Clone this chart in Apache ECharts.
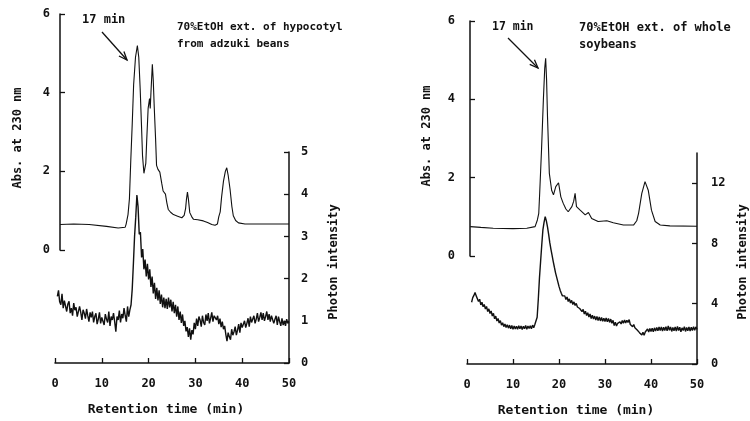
<!DOCTYPE html>
<html>
<head>
<meta charset="utf-8">
<script src="https://cdn.jsdelivr.net/npm/echarts@6/dist/echarts.min.js"></script>
<style>
html,body{margin:0;padding:0;background:#fff;}
#chart{width:750px;height:421px;}
</style>
</head>
<body>
<div id="chart"></div>
<script>
// ---------- DATA ----------
const xTicks = [0, 10, 20, 30, 40, 50];

// Left panel: 70%EtOH ext. of hypocotyl from adzuki beans
const absLeft = [[1.1,0.65],[4,0.66],[7.3,0.65],[11,0.60],[13.5,0.56],[13.9,0.54],[15.0,0.58],[15.2,0.66],[15.6,0.9],[15.9,1.3],[16.2,2.3],[16.5,3.2],[16.8,4.2],[17.2,4.9],[17.6,5.2],[17.9,4.9],[18.2,4.1],[18.5,3.1],[18.7,2.4],[19.0,1.95],[19.2,1.9],[19.4,2.2],[19.6,2.8],[19.9,3.6],[20.2,3.85],[20.35,3.6],[20.5,4.0],[20.8,4.72],[21.0,4.3],[21.2,3.65],[21.5,2.8],[21.7,2.15],[22.0,2.05],[22.4,1.98],[22.8,1.7],[23.1,1.5],[23.6,1.42],[23.9,1.2],[24.2,1.03],[24.7,0.96],[25.3,0.9],[26.2,0.86],[27.1,0.82],[27.6,0.88],[27.9,1.05],[28.1,1.3],[28.3,1.47],[28.5,1.3],[28.8,0.95],[29.2,0.85],[29.6,0.78],[30.5,0.77],[31.7,0.74],[32.6,0.7],[33.5,0.65],[34.2,0.63],[34.7,0.66],[35.0,0.85],[35.3,0.97],[35.6,1.35],[36.0,1.75],[36.4,2.0],[36.7,2.09],[37.0,1.9],[37.4,1.55],[37.8,1.1],[38.1,0.87],[38.6,0.75],[39.2,0.69],[40.6,0.66],[45,0.66],[50,0.66]];

const photonLeftStart = 0.5, photonLeftStep = 0.25;
const photonLeft = [
  1.58,1.72,1.45,1.38,1.64,1.30,1.48,1.52,
  1.22,1.40,1.46,1.18,1.30,1.12,1.42,1.25,
  1.32,1.10,1.14,1.34,1.20,1.02,1.26,1.18,
  1.05,1.28,1.12,0.98,1.20,1.08,1.22,0.96,
  1.10,1.18,0.92,1.04,1.20,0.94,1.08,1.12,
  0.90,1.16,1.04,0.96,1.22,0.88,1.10,1.02,
  1.18,0.98,0.74,1.10,1.02,1.24,0.96,1.16,
  1.06,1.30,1.12,0.98,1.34,1.10,1.26,1.38,
  1.75,2.35,3.00,3.45,3.98,3.70,3.05,3.10,
  2.50,2.70,2.22,2.45,2.05,2.35,1.98,2.22,
  1.80,2.05,1.65,1.90,1.52,1.78,1.48,1.72,
  1.40,1.62,1.32,1.55,1.30,1.52,1.28,1.55,
  1.32,1.50,1.22,1.45,1.18,1.38,1.10,1.34,
  1.02,1.22,0.95,1.15,0.88,1.00,0.75,0.85,
  0.62,0.82,0.55,0.78,0.68,0.95,0.80,1.05,
  0.88,1.10,1.02,0.86,1.12,0.96,0.90,1.15,
  1.00,1.18,0.94,1.06,1.20,0.98,1.12,1.16,
  1.02,1.12,0.92,1.05,0.85,0.98,0.80,0.88,
  0.68,0.52,0.72,0.62,0.55,0.80,0.66,0.74,
  0.86,0.66,0.78,0.92,0.72,0.95,0.84,0.80,
  1.00,0.84,0.94,1.06,0.86,1.10,0.96,0.92,
  1.12,0.94,1.04,1.18,0.98,1.08,1.20,1.02,
  1.18,1.00,1.10,1.22,1.02,1.16,0.98,1.12,
  1.14,0.94,1.04,1.12,0.90,1.10,0.98,0.88,
  1.06,0.90,1.00,0.88,1.04,0.94,0.98];

// Right panel: 70%EtOH ext. of whole soybeans
const absRight = [[0.7,0.75],[3,0.73],[5.7,0.71],[10,0.70],[13,0.71],[14.8,0.75],[15.3,0.92],[15.6,1.09],[15.8,1.6],[16.2,2.71],[16.6,3.98],[16.9,4.8],[17.1,5.05],[17.3,4.5],[17.5,3.56],[17.9,2.11],[18.4,1.68],[18.8,1.56],[19.3,1.77],[19.9,1.87],[20.4,1.51],[20.9,1.35],[21.5,1.2],[22.0,1.13],[22.8,1.26],[23.2,1.4],[23.5,1.6],[23.8,1.26],[24.6,1.17],[25.7,1.05],[26.4,1.11],[27.1,0.96],[28.5,0.88],[30.4,0.90],[31.8,0.85],[34,0.79],[36.2,0.79],[36.9,0.9],[37.3,1.09],[38.0,1.6],[38.7,1.9],[39.4,1.68],[40.1,1.17],[40.9,0.88],[42,0.79],[44.1,0.77],[50,0.76]];

const photonRightStart = 1.0, photonRightStep = 0.25;
const photonRight = [
  4.10,4.40,4.55,4.75,4.52,4.40,4.15,4.30,
  3.92,4.10,3.80,3.95,3.65,3.82,3.48,3.66,
  3.35,3.52,3.18,3.36,3.00,3.18,2.85,3.02,
  2.72,2.88,2.58,2.74,2.48,2.66,2.42,2.60,
  2.38,2.58,2.34,2.55,2.30,2.52,2.32,2.50,
  2.30,2.54,2.34,2.52,2.28,2.50,2.34,2.56,
  2.30,2.52,2.36,2.54,2.34,2.58,2.40,2.62,
  2.70,3.10,4.30,5.70,6.80,7.90,8.90,9.40,
  9.78,9.50,9.10,8.60,8.05,7.60,7.20,6.80,
  6.42,6.05,5.75,5.45,5.15,4.90,4.70,4.52,
  4.40,4.52,4.28,4.45,4.15,4.32,4.05,4.22,
  3.95,4.12,3.88,4.02,3.78,3.90,3.68,3.75,
  3.48,3.62,3.32,3.50,3.22,3.40,3.12,3.32,
  3.02,3.24,2.98,3.18,2.92,3.15,2.88,3.12,
  2.86,3.08,2.84,3.04,2.82,3.06,2.80,3.02,
  2.76,2.98,2.70,2.90,2.55,2.78,2.52,2.70,
  2.58,2.80,2.66,2.88,2.70,2.92,2.72,2.90,
  2.76,2.95,2.62,2.72,2.48,2.62,2.40,2.50,
  2.25,2.35,2.08,2.18,1.92,2.10,1.90,2.12,
  2.10,2.32,2.12,2.36,2.15,2.38,2.14,2.40,
  2.18,2.42,2.20,2.45,2.22,2.46,2.18,2.44,
  2.22,2.48,2.20,2.52,2.24,2.46,2.16,2.42,
  2.20,2.46,2.18,2.50,2.22,2.44,2.14,2.40,
  2.22,2.48,2.16,2.42,2.20,2.46,2.18,2.44,
  2.22,2.48,2.24,2.46,2.30];

const absTicks = [0, 2, 4, 6];
const photonLeftTicks = [0, 1, 2, 3, 4, 5];
const photonRightTicks = [0, 4, 8, 12];

const titleLeft = ['70%EtOH ext. of hypocotyl', 'from adzuki beans'];
const titleRight = ['70%EtOH ext. of whole', 'soybeans'];
const peakLabel = '17 min';
const yTitleAbs = 'Abs. at 230 nm';
const yTitlePhoton = 'Photon intensity';
const xTitle = 'Retention time (min)';

// ---------- BUILD ----------
const INK = '#111';
const FONT = 'DejaVu Sans Mono';
function toPairs(start, step, vals){ return vals.map((v,i)=>[+(start+step*i).toFixed(3), v]); }

const labelStyle = {color: INK, fontFamily: FONT, fontWeight: 'bold', fontSize: 12};
const lineAx = {show: true, onZero: false, lineStyle: {color: INK, width: 1.5}};
const tickIn = {show: true, inside: true, length: 5, lineStyle: {color: INK, width: 1.3}};

function xAx(grid, show){
  return {type:'value', gridIndex:grid, min:0, max:50, interval:10, show:show,
    axisLine: lineAx, axisTick: tickIn, splitLine:{show:false},
    axisLabel: Object.assign({margin:15}, labelStyle)};
}
function yAx(grid, pos, max, interval, offset, margin, extra){
  return Object.assign({type:'value', gridIndex:grid, position:pos, min:0, max:max, interval:interval, offset:offset,
    axisLine: lineAx, axisTick: tickIn, splitLine:{show:false},
    axisLabel: Object.assign({margin:margin}, labelStyle)}, extra||{});
}

const grids = [
  {left:55, top:14, width:234, height:236},   // 0 left abs
  {left:55, top:152, width:234, height:211},  // 1 left photon
  {left:467, top:21, width:230, height:235},  // 2 right abs
  {left:467, top:153, width:230, height:211}  // 3 right photon
];

function text(x, y, str, size, rot, align){
  return {type:'text', x:x, y:y, rotation: rot||0, z:10,
    style:{text:str, fill:INK, fontFamily:FONT, fontWeight:'bold', fontSize:size,
      align: align||'left', verticalAlign:'middle', textAlign: align||'left', textVerticalAlign:'middle'}};
}
function arrow(x1,y1,x2,y2){
  const a = Math.atan2(y2-y1, x2-x1), L = 9, w = 0.38;
  return [
    {type:'line', z:10, shape:{x1:x1,y1:y1,x2:x2,y2:y2}, style:{stroke:INK, lineWidth:1.3}},
    {type:'polyline', z:10, shape:{points:[[x2-L*Math.cos(a-w), y2-L*Math.sin(a-w)],[x2,y2],[x2-L*Math.cos(a+w), y2-L*Math.sin(a+w)]]},
      style:{stroke:INK, lineWidth:1.3, fill:null}}
  ];
}

const graphic = [
  text(82, 20, peakLabel, 12),
  text(177, 27, titleLeft[0], 11),
  text(177, 44, titleLeft[1], 11),
  text(18, 138, yTitleAbs, 12, Math.PI/2, 'center'),
  text(334, 262, yTitlePhoton, 12, Math.PI/2, 'center'),
  text(166, 410, xTitle, 13, 0, 'center'),
  text(492, 27, peakLabel, 11.5),
  text(579, 28, titleRight[0], 12),
  text(579, 45, titleRight[1], 12),
  text(427, 136, yTitleAbs, 12, Math.PI/2, 'center'),
  text(743, 262, yTitlePhoton, 12, Math.PI/2, 'center'),
  text(576, 411, xTitle, 13, 0, 'center')
].concat(arrow(102, 32, 127, 60)).concat(arrow(508, 38, 538, 68));

function lineSeries(xi, yi, data, width){
  return {type:'line', xAxisIndex:xi, yAxisIndex:yi, data:data, showSymbol:false, symbol:'none',
    lineStyle:{color:INK, width:width}, silent:true, clip:false};
}

const option = {
  backgroundColor:'#fff',
  animation:false,
  grid: grids,
  xAxis: [xAx(0,false), xAx(1,true), xAx(2,false), xAx(3,true)],
  yAxis: [
    yAx(0,'left',6,2,-5,10),
    yAx(1,'right',5,1,0,12),
    yAx(2,'left',6,2,-3,15),
    yAx(3,'right',14,4,0,14,{
      axisLabel: Object.assign({margin:14, customValues: photonRightTicks,
        formatter: v => (photonRightTicks.indexOf(v) >= 0 ? String(v) : '')}, labelStyle),
      axisTick: Object.assign({customValues: photonRightTicks}, tickIn)
    })
  ],
  graphic: graphic,
  series: [
    lineSeries(0,0,absLeft,1.1),
    lineSeries(1,1,toPairs(photonLeftStart, photonLeftStep, photonLeft),1.4),
    lineSeries(2,2,absRight,1.1),
    lineSeries(3,3,toPairs(photonRightStart, photonRightStep, photonRight),1.4)
  ]
};

const chart = echarts.init(document.getElementById('chart'), null, {renderer:'canvas'});
chart.setOption(option);
</script>
</body>
</html>
